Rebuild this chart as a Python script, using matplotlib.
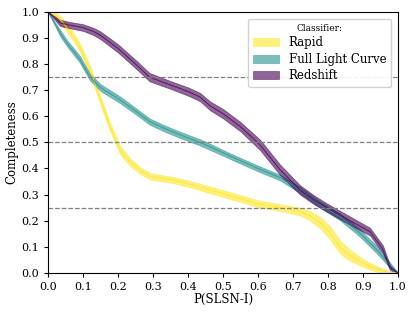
import numpy as np
import matplotlib
matplotlib.use("Agg")
import matplotlib.pyplot as plt

# ----------------------------
# Data
# ----------------------------
rapid_x = [0.0, 0.014, 0.043, 0.07, 0.09, 0.12, 0.149, 0.177, 0.206, 0.234, 0.26, 0.291,
           0.357, 0.414, 0.463, 0.549, 0.6, 0.663, 0.72, 0.749, 0.78, 0.806, 0.834, 0.86,
           0.891, 0.92, 0.949, 0.977, 1.0]
rapid_y = [1.0, 1.0, 0.958, 0.91, 0.866, 0.778, 0.663, 0.56, 0.47, 0.425, 0.395, 0.37,
           0.356, 0.337, 0.318, 0.285, 0.265, 0.25, 0.235, 0.218, 0.19, 0.153, 0.10, 0.07,
           0.045, 0.025, 0.011, 0.0, 0.0]
rapid_err = [0.0, 0.01, 0.015, 0.015, 0.015, 0.016, 0.016, 0.016, 0.016, 0.015, 0.013, 0.012,
             0.012, 0.012, 0.013, 0.013, 0.013, 0.013, 0.015, 0.018, 0.022, 0.025, 0.025, 0.022,
             0.016, 0.013, 0.01, 0.005, 0.0]

flc_x = [0.0, 0.034, 0.054, 0.09, 0.12, 0.15, 0.206, 0.25, 0.29, 0.33, 0.377, 0.434,
         0.463, 0.5, 0.549, 0.6, 0.663, 0.72, 0.777, 0.834, 0.891, 0.94, 0.977, 1.0]
flc_y = [1.0, 0.92, 0.88, 0.82, 0.75, 0.71, 0.663, 0.62, 0.58, 0.555, 0.529, 0.50,
         0.483, 0.46, 0.43, 0.40, 0.365, 0.318, 0.262, 0.215, 0.153, 0.088, 0.03, 0.0]
flc_err = [0.0, 0.012, 0.012, 0.013, 0.013, 0.013, 0.013, 0.012, 0.012, 0.012, 0.012, 0.012,
           0.012, 0.011, 0.011, 0.011, 0.011, 0.012, 0.012, 0.013, 0.014, 0.014, 0.01, 0.0]

z_x = [0.0, 0.034, 0.06, 0.1, 0.13, 0.15, 0.2, 0.25, 0.29, 0.35, 0.4, 0.434, 0.463,
       0.5, 0.55, 0.606, 0.663, 0.72, 0.76, 0.797, 0.83, 0.863, 0.92, 0.957, 0.977, 1.0]
z_y = [1.0, 0.958, 0.95, 0.94, 0.925, 0.91, 0.86, 0.80, 0.75, 0.72, 0.695, 0.674, 0.64,
       0.61, 0.56, 0.49, 0.395, 0.318, 0.28, 0.25, 0.225, 0.20, 0.158, 0.09, 0.02, 0.0]
z_err = [0.0, 0.012, 0.012, 0.013, 0.014, 0.015, 0.016, 0.016, 0.016, 0.015, 0.016, 0.016,
         0.017, 0.018, 0.018, 0.02, 0.02, 0.018, 0.017, 0.016, 0.016, 0.016, 0.015, 0.015,
         0.01, 0.0]

labels = ["Rapid", "Full Light Curve", "Redshift"]
colors = ["#fde725", "#21918c", "#440154"]
thresholds = [0.25, 0.5, 0.75]

# ----------------------------
# Plot
# ----------------------------
plt.rcParams["font.family"] = "DejaVu Serif"

fig = plt.figure(figsize=(4.15, 3.14), dpi=100)
ax = fig.add_axes([0.116, 0.131, 0.843, 0.831])

series = [(rapid_x, rapid_y, rapid_err), (flc_x, flc_y, flc_err), (z_x, z_y, z_err)]
for (x, y, e), lab, c in zip(series, labels, colors):
    x = np.array(x)
    y = np.array(y)
    e = np.array(e)
    ax.fill_between(x, y - e, y + e, color=c, alpha=0.6, lw=0.5, label=lab)
    ax.plot(x, y, color=c, lw=0.8, alpha=0.7)

for t in thresholds:
    ax.axhline(t, color="gray", ls="--", lw=0.9)

ax.set_xlim(0, 1)
ax.set_ylim(0, 1)
ax.set_xticks(np.arange(0, 1.01, 0.1))
ax.set_yticks(np.arange(0, 1.01, 0.1))
ax.tick_params(labelsize=8, length=3)
ax.set_xlabel("P(SLSN-I)", fontsize=8.5, labelpad=1)
ax.set_ylabel("Completeness", fontsize=8.5, labelpad=2)

leg = ax.legend(title="Classifier:", loc="upper right", fontsize=8.5,
                title_fontsize=6.5, framealpha=0.9, handlelength=2.2,
                borderaxespad=0.6, labelspacing=0.3)

fig.savefig("out.png", dpi=100)
